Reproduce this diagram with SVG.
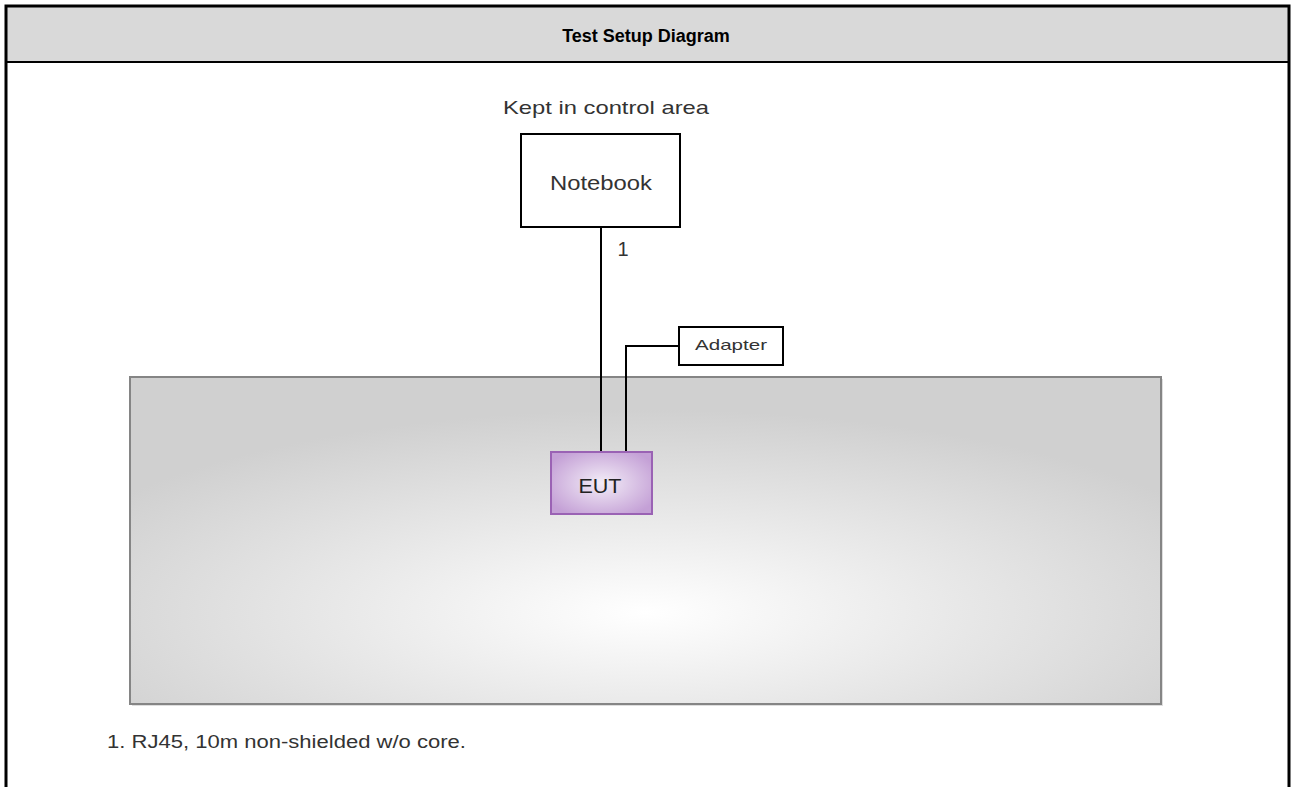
<svg xmlns="http://www.w3.org/2000/svg" width="1293" height="787" viewBox="0 0 1293 787">
<style>
.t{font-family:"Liberation Sans",Arial,sans-serif;fill:#333}
.box{fill:#fff;stroke:#000;stroke-width:2}
.wire{fill:none;stroke:#000;stroke-width:2}
</style>
<defs>
<radialGradient id="bench" cx="0.5" cy="0.72" r="0.62">
<stop offset="0" stop-color="#ffffff"/>
<stop offset="1" stop-color="#d0d0d0"/>
</radialGradient>
<radialGradient id="eut" cx="0.5" cy="0.5" r="0.6">
<stop offset="0" stop-color="#f3edf7"/>
<stop offset="1" stop-color="#c4a0d6"/>
</radialGradient>
</defs>
<rect width="1293" height="787" fill="#fff"/>
<g id="frame">
<rect x="6" y="6" width="1283" height="56" fill="#d9d9d9"/>
<line x1="6" y1="62" x2="1289" y2="62" stroke="#000" stroke-width="2"/>
<path d="M6,787 V6 H1289 V787" fill="none" stroke="#000" stroke-width="3"/>
<text class="t" x="646" y="42" font-size="18" font-weight="bold" text-anchor="middle" style="fill:#000">Test Setup Diagram</text>
</g>
<g id="bench-area">
<rect x="132" y="379" width="1031" height="327" fill="#c8c8c8" opacity="0.6"/>
<rect x="130" y="377" width="1031" height="327" fill="url(#bench)" stroke="#858585" stroke-width="2"/>
</g>
<g id="connectors">
<line class="wire" x1="601" y1="227" x2="601" y2="452"/>
<polyline class="wire" points="626,452 626,346 679,346"/>
<text class="t" x="623" y="256" font-size="20" text-anchor="middle">1</text>
</g>
<g id="notebook">
<text class="t" x="606" y="114" font-size="19" text-anchor="middle" textLength="206" lengthAdjust="spacingAndGlyphs">Kept in control area</text>
<rect class="box" x="521" y="134" width="159" height="93"/>
<text class="t" x="601" y="190" font-size="21" text-anchor="middle" textLength="102" lengthAdjust="spacingAndGlyphs">Notebook</text>
</g>
<g id="adapter">
<rect class="box" x="679" y="327" width="104" height="38"/>
<text class="t" x="731" y="350" font-size="15" text-anchor="middle" textLength="72" lengthAdjust="spacingAndGlyphs">Adapter</text>
</g>
<g id="eut-node">
<rect x="551" y="452" width="101" height="62" fill="url(#eut)" stroke="#9a62b4" stroke-width="2"/>
<text class="t" x="600" y="493" font-size="20" text-anchor="middle" style="fill:#222" textLength="43" lengthAdjust="spacingAndGlyphs">EUT</text>
</g>
<g id="note">
<text class="t" x="107" y="748" font-size="18" textLength="359" lengthAdjust="spacingAndGlyphs">1. RJ45, 10m non-shielded w/o core.</text>
</g>
</svg>
